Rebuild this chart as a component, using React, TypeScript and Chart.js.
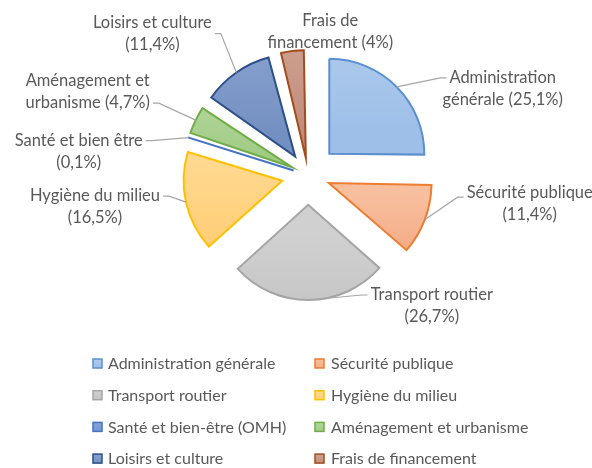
import React, { useEffect, useRef } from 'react';
import { Chart, registerables } from 'chart.js';

Chart.register(...registerables);

// ---- data ----
const categories = [
  'Administration générale',
  'Sécurité publique',
  'Transport routier',
  'Hygiène du milieu',
  'Santé et bien-être (OMH)',
  'Aménagement et urbanisme',
  'Loisirs et culture',
  'Frais de financement',
];
const values = [25.1, 11.4, 26.7, 16.5, 0.1, 4.7, 11.4, 4];
const sliceLabels = [
  'Administration\ngénérale',
  'Sécurité publique',
  'Transport routier',
  'Hygiène du milieu',
  'Santé et bien être',
  'Aménagement et\nurbanisme',
  'Loisirs et culture',
  'Frais de\nfinancement',
];

// ---- styles ----
const fillLight = ['#afcaec', '#f8bf9f', '#d0d0d0', '#ffd991', '#86a3d8', '#b3d69b', '#88a2cf', '#cfa292'];
const fillDark = ['#9dbfe8', '#f4aa83', '#c3c3c3', '#ffcd74', '#7596d2', '#a0cb85', '#7490c2', '#c28c7b'];
const borderColors = ['#5b8fcf', '#ed7d31', '#a5a5a5', '#ffc000', '#4472c4', '#70ad47', '#2d4f88', '#a24d1e'];

// ---- label layout (text block centre relative to the slice's outer mid point) ----
const labelDx = [106, 105, 123, -91, -110, -108, -84, 38];
const labelDy = [2, -16, 6, 5, 14, -28, -39, -19];
const leaderRow = [0, 0.2, 0, 0, 0, 1, 0.5, -1];

const EXPLODE = 30;
const RADIUS = 95;
const FONT = 'Lato, "Open Sans", sans-serif';
const TEXT = '#595959';
const LINE_H = 22;

const total = values.reduce((a, b) => a + b, 0);
const fmtPct = (v: number) => String(v).replace('.', ',');

function offsetFor(i: number) {
  const circ = (values[i] / total) * Math.PI * 2;
  const fix = 1 - Math.sin(Math.min(Math.PI, circ));
  return (4 * EXPLODE) / (1 + fix);
}

function sliceGradient(c: any) {
  const i = c.dataIndex;
  const chart = c.chart;
  const area = chart.chartArea;
  if (!area || i === undefined) return fillDark[i] || '#ccc';
  const cx = (area.left + area.right) / 2;
  const cy = (area.top + area.bottom) / 2;
  let cum = 0;
  for (let k = 0; k < i; k++) cum += values[k];
  const a0 = -Math.PI / 2 + (cum / total) * Math.PI * 2;
  const a1 = a0 + (values[i] / total) * Math.PI * 2;
  const mid = (a0 + a1) / 2;
  const ay = cy + Math.sin(mid) * EXPLODE;
  let minY = ay, maxY = ay;
  for (let t = 0; t <= 24; t++) {
    const a = a0 + ((a1 - a0) * t) / 24;
    const y = ay + Math.sin(a) * RADIUS;
    minY = Math.min(minY, y);
    maxY = Math.max(maxY, y);
  }
  if (maxY - minY < 1) maxY = minY + 1;
  const g = chart.ctx.createLinearGradient(0, minY, 0, maxY);
  g.addColorStop(0, fillLight[i]);
  g.addColorStop(1, fillDark[i]);
  return g;
}

const labelPlugin = {
  id: 'sliceLabels',
  afterDatasetsDraw(chart: any) {
    const ctx = chart.ctx;
    const meta = chart.getDatasetMeta(0);
    ctx.save();
    ctx.font = `16.5px ${FONT}`;
    ctx.textAlign = 'center';
    ctx.textBaseline = 'middle';
    meta.data.forEach((arc: any, i: number) => {
      const p = arc.getProps(['x', 'y', 'startAngle', 'endAngle', 'outerRadius'], true);
      const mid = (p.startAngle + p.endAngle) / 2;
      const circ = p.endAngle - p.startAngle;
      const off = (arc.options.offset || 0) / 4;
      const fix = 1 - Math.sin(Math.min(Math.PI, circ));
      const shift = off + off * fix;
      const px = p.x + Math.cos(mid) * (shift + p.outerRadius);
      const py = p.y + Math.sin(mid) * (shift + p.outerRadius);

      const name = sliceLabels[i];
      const pct = `(${fmtPct(values[i])}%)`;
      let l1: string, l2: string;
      if (name.includes('\n')) {
        const parts = name.split('\n');
        l1 = parts[0];
        l2 = `${parts[1]} ${pct}`;
      } else {
        l1 = name;
        l2 = pct;
      }
      const lx = px + labelDx[i];
      const ly = py + labelDy[i];
      const y1 = ly - LINE_H / 2;
      const y2 = ly + LINE_H / 2;

      const row = leaderRow[i];
      if (row >= 0) {
        const w1 = ctx.measureText(l1).width;
        const w2 = ctx.measureText(l2).width;
        const w = row === 0 ? w1 : row === 1 ? w2 : Math.max(w1, w2);
        const ey = y1 + (y2 - y1) * row;
        const right = lx > px;
        const ex = right ? lx - w / 2 - 3 : lx + w / 2 + 3;
        const s = right ? -1 : 1;
        ctx.strokeStyle = '#a6a6a6';
        ctx.lineWidth = 1.2;
        ctx.beginPath();
        ctx.moveTo(px, py);
        ctx.lineTo(ex + s * 6, ey);
        ctx.lineTo(ex, ey);
        ctx.stroke();
      }
      ctx.fillStyle = TEXT;
      ctx.fillText(l1, lx, y1);
      ctx.fillText(l2, lx, y2);
    });
    ctx.restore();
  },
};

const legendPlugin = {
  id: 'gridLegend',
  afterDraw(chart: any) {
    const ctx = chart.ctx;
    const colBox = [93, 315];
    const colText = [108, 331];
    const top = 364;
    const step = 31.7;
    ctx.save();
    ctx.font = `16px ${FONT}`;
    ctx.textAlign = 'left';
    ctx.textBaseline = 'middle';
    categories.forEach((cat, i) => {
      const col = i % 2;
      const row = Math.floor(i / 2);
      const y = top + row * step;
      const bx = colBox[col];
      const g = ctx.createLinearGradient(0, y - 5, 0, y + 5);
      g.addColorStop(0, fillLight[i]);
      g.addColorStop(1, fillDark[i]);
      ctx.fillStyle = g;
      ctx.fillRect(bx, y - 5, 9, 9);
      ctx.strokeStyle = borderColors[i];
      ctx.lineWidth = 1.5;
      ctx.strokeRect(bx, y - 5, 9, 9);
      ctx.fillStyle = TEXT;
      ctx.fillText(cat, colText[col], y);
    });
    ctx.restore();
  },
};

export default function App() {
  const ref = useRef<HTMLCanvasElement | null>(null);
  useEffect(() => {
    let chart: Chart | null = null;
    let cancelled = false;
    const make = () => {
      if (cancelled || !ref.current) return;
      chart = new Chart(ref.current, {
        type: 'pie',
        data: {
          labels: categories,
          datasets: [
            {
              data: values,
              backgroundColor: sliceGradient as any,
              borderColor: borderColors,
              borderWidth: 2,
              borderJoinStyle: 'miter',
              offset: ((c: any) => offsetFor(c.dataIndex)) as any,
              hoverOffset: 0,
              radius: RADIUS,
            } as any,
          ],
        },
        options: {
          responsive: false,
          animation: false,
          events: [],
          layout: { padding: { left: 24, right: 0, top: 0, bottom: 118 } },
          plugins: { legend: { display: false }, tooltip: { enabled: false } },
        },
        plugins: [labelPlugin, legendPlugin],
      });
    };
    const fonts = (document as any).fonts;
    if (fonts && fonts.load) {
      Promise.all([fonts.load(`16px Lato`), fonts.load(`15px Lato`)]).then(make, make);
    } else {
      make();
    }
    return () => {
      cancelled = true;
      if (chart) chart.destroy();
    };
  }, []);
  return (
    <div style={{ position: 'fixed', left: 0, top: 0, width: 592, height: 468, background: '#fff' }}>
      <canvas ref={ref} width={592} height={468} style={{ display: 'block' }} />
    </div>
  );
}
